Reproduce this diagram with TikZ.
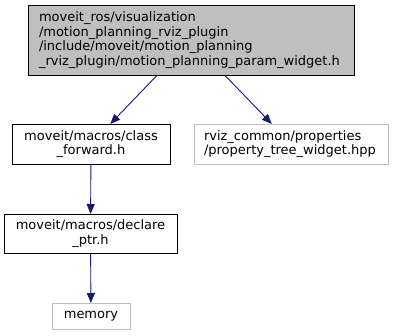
\documentclass[tikz,border=0pt]{standalone}
\usepackage{fontspec}
\setmainfont{DejaVu Sans}
\usetikzlibrary{arrows.meta}
\definecolor{edgeblue}{HTML}{191970}
\definecolor{boxgray}{HTML}{BFBFBF}
\begin{document}
\begin{tikzpicture}[x=1pt,y=-1pt,
  every node/.style={font=\fontsize{13}{14.6}\selectfont, inner sep=0pt, outer sep=0pt},
  filebox/.style={draw=black, line width=0.9pt, fill=white, align=center},
  extbox/.style={draw=boxgray, line width=0.9pt, fill=white},
  focusbox/.style={draw=black, line width=0.9pt, fill=boxgray},
  dep/.style={draw=edgeblue, line width=0.9pt, -{Triangle[length=10pt,width=8pt]}}]
  \useasboundingbox[fill=white] (0,0) rectangle (393,335);

  \node[focusbox, minimum width=326pt, minimum height=70pt] (top) at (191,40) {};
  \node[anchor=west, align=left] at ([xshift=11pt]top.west)
    {moveit\_ros/visualization\\/motion\_planning\_rviz\_plugin\\/include/moveit/motion\_planning\\\_rviz\_plugin/motion\_planning\_param\_widget.h};

  \node[filebox, minimum width=158pt, minimum height=40pt] (cf) at (91,144)
    {moveit/macros/class\\\_forward.h};

  \node[extbox, minimum width=194pt, minimum height=40pt] (rviz) at (291,144) {};
  \node[anchor=west, align=left] at ([xshift=10pt]rviz.west)
    {rviz\_common/properties\\/property\_tree\_widget.hpp};

  \node[filebox, minimum width=173pt, minimum height=39pt] (dp) at (90.5,233.5)
    {moveit/macros/declare\\\_ptr.h};

  \node[extbox, minimum width=78pt, minimum height=26pt] (mem) at (91,316) {memory};

  \draw[dep] (top) -- (cf);
  \draw[dep] (top) -- (rviz);
  \draw[dep] (cf) -- (dp);
  \draw[dep] (dp) -- (mem);
\end{tikzpicture}
\end{document}
